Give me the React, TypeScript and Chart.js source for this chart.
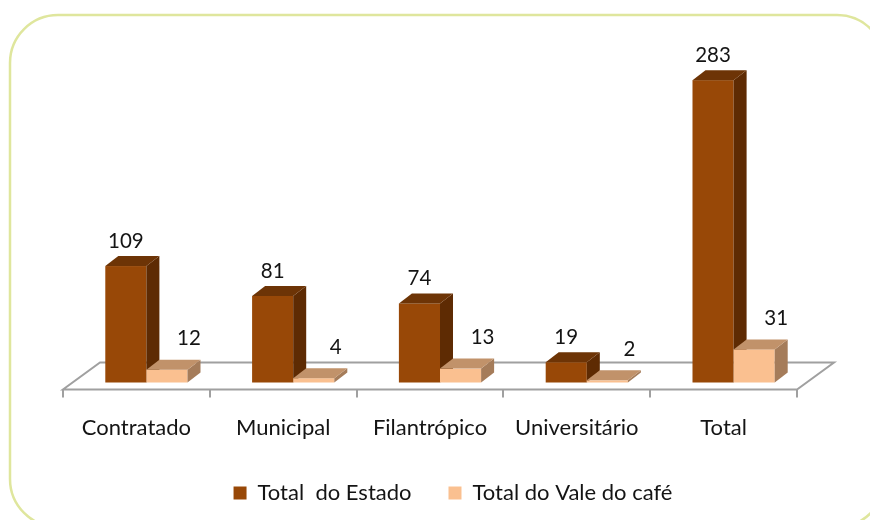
import React, { useEffect, useRef } from "react";
import { Chart, registerables } from "chart.js";

Chart.register(...registerables);

// ---- data ----
const categories = ["Contratado", "Municipal", "Filantrópico", "Universitário", "Total"];
const estadoValues = [109, 81, 74, 19, 283];
const valeValues = [12, 4, 13, 2, 31];
const seriesNames = ["Total  do Estado", "Total do Vale do café"];

// ---- styles ----
const FONT = "Lato, 'Open Sans', sans-serif";
const TEXT_COLOR = "#141414";
const DARK = { front: "#984807", side: "#5e2b03", top: "#6d3406" };
const LIGHT = { front: "#fac090", side: "#a57c5a", top: "#c1926a" };
const FACES = [DARK, LIGHT];
const FLOOR_COLOR = "#a0a0a0";
const FRAME_COLOR = "#dfe69d";

const SET_BACK = { x: 10, y: -7 };
const BAR_DEPTH = { x: 13, y: -10 };
const FLOOR_DEPTH = { x: 37, y: -27 };
const LABEL_OFFSETS = [
  { x: 0, y: -25 },
  { x: 22, y: -31 },
];

function roundRect(ctx: CanvasRenderingContext2D, x: number, y: number, w: number, h: number, r: number) {
  ctx.beginPath();
  ctx.moveTo(x + r, y);
  ctx.lineTo(x + w - r, y);
  ctx.arcTo(x + w, y, x + w, y + r, r);
  ctx.lineTo(x + w, y + h - r);
  ctx.arcTo(x + w, y + h, x + w - r, y + h, r);
  ctx.lineTo(x + r, y + h);
  ctx.arcTo(x, y + h, x, y + h - r, r);
  ctx.lineTo(x, y + r);
  ctx.arcTo(x, y, x + r, y, r);
  ctx.closePath();
}

function poly(ctx: CanvasRenderingContext2D, pts: number[][], fill: string) {
  ctx.beginPath();
  ctx.moveTo(pts[0][0], pts[0][1]);
  for (let i = 1; i < pts.length; i++) ctx.lineTo(pts[i][0], pts[i][1]);
  ctx.closePath();
  ctx.fillStyle = fill;
  ctx.fill();
}

const threeDPlugin = {
  id: "threeD",
  beforeDraw(chart: any) {
    const ctx = chart.ctx as CanvasRenderingContext2D;
    ctx.save();
    roundRect(ctx, 10, 15, 875, 512, 48);
    ctx.strokeStyle = FRAME_COLOR;
    ctx.lineWidth = 2.5;
    ctx.stroke();
    ctx.restore();
  },
  beforeDatasetsDraw(chart: any) {
    const ctx = chart.ctx as CanvasRenderingContext2D;
    const xs = chart.scales.x;
    const y0 = chart.scales.y.getPixelForValue(0);
    const { left, right } = chart.chartArea;
    ctx.save();
    ctx.strokeStyle = FLOOR_COLOR;
    ctx.lineWidth = 2;
    ctx.lineJoin = "miter";
    ctx.beginPath();
    ctx.moveTo(left, y0);
    ctx.lineTo(right, y0);
    ctx.lineTo(right + FLOOR_DEPTH.x, y0 + FLOOR_DEPTH.y);
    ctx.lineTo(left + FLOOR_DEPTH.x, y0 + FLOOR_DEPTH.y);
    ctx.closePath();
    ctx.stroke();
    ctx.beginPath();
    for (let i = 0; i <= categories.length; i++) {
      const px = Math.round(xs.getPixelForValue(i - 0.5));
      ctx.moveTo(px, y0);
      ctx.lineTo(px, y0 + 8);
    }
    ctx.stroke();
    ctx.restore();
  },
  beforeDatasetDraw() {
    return false;
  },
  afterDatasetsDraw(chart: any) {
    const ctx = chart.ctx as CanvasRenderingContext2D;
    const n = categories.length;
    const metas = [chart.getDatasetMeta(0), chart.getDatasetMeta(1)];
    ctx.save();
    for (let i = 0; i < n; i++) {
      metas.forEach((meta: any, d: number) => {
        const el = meta.data[i];
        const { x, y, base, width } = el.getProps(["x", "y", "base", "width"], true);
        const l = x - width / 2 + SET_BACK.x;
        const r = x + width / 2 + SET_BACK.x;
        const t = y + SET_BACK.y;
        const b = base + SET_BACK.y;
        const f = FACES[d];
        const dx = BAR_DEPTH.x;
        const dy = BAR_DEPTH.y;
        ctx.fillStyle = f.front;
        ctx.fillRect(l, t, r - l, b - t);
        poly(ctx, [[r, t], [r + dx, t + dy], [r + dx, b + dy], [r, b]], f.side);
        poly(ctx, [[l, t], [l + dx, t + dy], [r + dx, t + dy], [r, t]], f.top);
      });
    }
    ctx.font = `20.5px ${FONT}`;
    ctx.fillStyle = TEXT_COLOR;
    ctx.textAlign = "center";
    ctx.textBaseline = "middle";
    metas.forEach((meta: any, d: number) => {
      const values = d === 0 ? estadoValues : valeValues;
      meta.data.forEach((el: any, i: number) => {
        const { x, y } = el.getProps(["x", "y"], true);
        ctx.fillText(
          String(values[i]),
          x + SET_BACK.x + LABEL_OFFSETS[d].x,
          y + SET_BACK.y + LABEL_OFFSETS[d].y
        );
      });
    });
    ctx.restore();
  },
};

export default function App() {
  const canvasRef = useRef<HTMLCanvasElement | null>(null);

  useEffect(() => {
    if (!canvasRef.current) return;
    const chart = new Chart(canvasRef.current, {
      type: "bar",
      data: {
        labels: categories,
        datasets: [
          { label: seriesNames[0], data: estadoValues, backgroundColor: DARK.front, yAxisID: "y" },
          { label: seriesNames[1], data: valeValues, backgroundColor: LIGHT.front, yAxisID: "y" },
        ],
      },
      options: {
        responsive: false,
        animation: false,
        devicePixelRatio: 1,
        layout: { padding: { left: 36, right: 0, top: 69, bottom: 6 } },
        datasets: { bar: { categoryPercentage: 0.56, barPercentage: 1 } },
        plugins: {
          legend: {
            position: "bottom",
            labels: {
              boxWidth: 13,
              boxHeight: 13,
              padding: 37,
              color: TEXT_COLOR,
              font: { family: FONT, size: 22 },
            },
          },
          tooltip: { enabled: false },
        },
        scales: {
          x: {
            grid: { display: false, drawTicks: false },
            border: { display: false },
            ticks: { padding: 25, color: TEXT_COLOR, font: { family: FONT, size: 22 } },
            afterFit: (s: any) => {
              s.height = 55.5;
            },
          },
          y: {
            position: "left",
            min: 0,
            max: 300,
            grid: { display: false, drawTicks: false },
            border: { display: false },
            ticks: { display: false },
            afterFit: (s: any) => {
              s.width = 27;
            },
          },
          y2: {
            position: "right",
            min: 0,
            max: 300,
            grid: { display: false, drawTicks: false },
            border: { display: false },
            ticks: { display: false },
            afterFit: (s: any) => {
              s.width = 73;
            },
          },
        },
      } as any,
      plugins: [threeDPlugin as any],
    });
    return () => chart.destroy();
  }, []);

  return (
    <div style={{ position: "fixed", left: 0, top: 0, width: 870, height: 520, background: "#fff" }}>
      <canvas ref={canvasRef} width={870} height={520} style={{ display: "block" }} />
    </div>
  );
}
